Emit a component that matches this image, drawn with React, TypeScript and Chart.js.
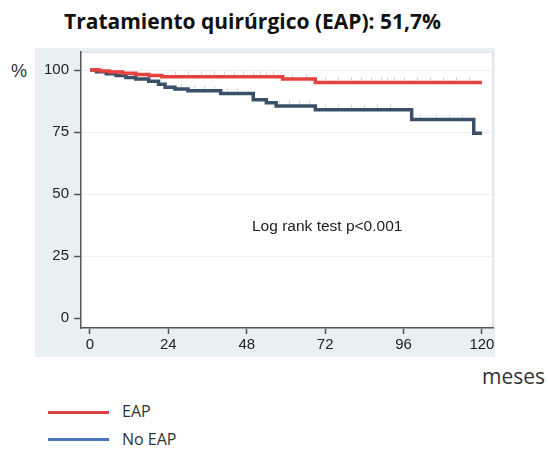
import React, { useEffect, useRef } from "react";
import { Chart, registerables } from "chart.js";

Chart.register(...registerables);

const title = "Tratamiento quirúrgico (EAP): 51,7%";
const seriesNames = ["EAP", "No EAP"];
const xTicks = [0, 24, 48, 72, 96, 120];
const yTicks = [0, 25, 50, 75, 100];

const eapTimes = [0, 3, 6, 10, 14, 18, 22, 59, 69, 120];
const eapSurv = [100, 99.6, 99.2, 98.7, 98.2, 97.8, 97.3, 96.4, 95.0, 95.0];

const noEapTimes = [0, 2, 5, 8, 11, 14, 18, 21, 23, 26, 30, 40, 50, 54, 57, 69, 98.5, 117.5, 120];
const noEapSurv = [100, 99.3, 98.5, 97.8, 97.0, 96.4, 95.5, 94.3, 93.0, 92.3, 91.6, 90.5, 88.0, 86.8, 85.5, 84.0, 80.0, 74.5, 74.5];

const eapCensor = [26, 30, 34, 38, 41, 44, 47, 50, 52, 54, 56, 62, 66, 72, 76, 80, 83, 86, 89, 91, 93, 96, 100, 104, 108, 112, 116];
const noEapCensor = [28, 32, 35, 38, 42, 45, 58, 61, 64, 67, 72, 76, 80, 84, 88, 92, 101, 106, 110, 114];

const pts = (t: number[], s: number[]) => t.map((x, i) => ({ x, y: s[i] }));
const survAt = (t: number[], s: number[], x: number) => {
  let v = s[0];
  for (let i = 0; i < t.length; i++) if (t[i] <= x) v = s[i];
  return v;
};

export default function App() {
  const ref = useRef<HTMLCanvasElement | null>(null);
  useEffect(() => {
    if (!ref.current) return;
    const bg = {
      id: "bg",
      beforeDraw(chart: any) {
        const { ctx, chartArea: a } = chart;
        ctx.save();
        ctx.fillStyle = "#e9f0f4";
        ctx.fillRect(0, 0, chart.width, chart.height);
        ctx.fillStyle = "#ffffff";
        ctx.fillRect(a.left, a.top, a.right - a.left, a.bottom - a.top);
        ctx.strokeStyle = "#dde3e8";
        ctx.lineWidth = 1;
        ctx.beginPath();
        ctx.moveTo(a.left, a.top + 0.5);
        ctx.lineTo(a.right - 0.5, a.top + 0.5);
        ctx.lineTo(a.right - 0.5, a.bottom);
        ctx.stroke();
        ctx.restore();
      },
    };
    const censor = {
      id: "censor",
      afterDatasetsDraw(chart: any) {
        const { ctx, scales } = chart;
        ctx.save();
        ctx.strokeStyle = "rgba(160,170,180,0.5)";
        ctx.lineWidth = 1;
        const draw = (c: number[], t: number[], s: number[]) => {
          c.forEach((x) => {
            const px = Math.round(scales.x.getPixelForValue(x)) + 0.5;
            const py = scales.y.getPixelForValue(survAt(t, s, x));
            ctx.beginPath();
            ctx.moveTo(px, py - 5);
            ctx.lineTo(px, py - 2);
            ctx.stroke();
          });
        };
        draw(eapCensor, eapTimes, eapSurv);
        draw(noEapCensor, noEapTimes, noEapSurv);
        ctx.restore();
      },
    };
    const chart = new Chart(ref.current, {
      type: "line",
      data: {
        datasets: [
          {
            label: seriesNames[0],
            data: pts(eapTimes, eapSurv),
            borderColor: "#e5413f",
            borderWidth: 3.5,
            stepped: true,
            pointRadius: 0,
            fill: false,
          },
          {
            label: seriesNames[1],
            data: pts(noEapTimes, noEapSurv),
            borderColor: "#3a5069",
            borderWidth: 3.5,
            stepped: true,
            pointRadius: 0,
            fill: false,
          },
        ],
      },
      options: {
        animation: false,
        responsive: false,
        devicePixelRatio: 1,
        layout: { padding: { top: 4, right: 2, left: 2, bottom: 2 } },
        plugins: { legend: { display: false }, tooltip: { enabled: false } },
        scales: {
          x: {
            type: "linear",
            min: -2.75,
            max: 123.4,
            afterFit: (s: any) => { s.height = 27; s.paddingLeft = 0; s.paddingRight = 0; },
            afterBuildTicks: (s: any) => { s.ticks = xTicks.map((v) => ({ value: v })); },
            grid: { drawOnChartArea: false, tickLength: 6, tickColor: "#555", tickWidth: 1.5 },
            border: { display: true, color: "#555", width: 1.5 },
            ticks: { color: "#222", font: { family: "Liberation Sans", size: 15 }, padding: 2, maxRotation: 0 },
          },
          y: {
            type: "linear",
            min: -4.03,
            max: 107.26,
            afterFit: (s: any) => { s.width = 44; s.paddingTop = 0; s.paddingBottom = 0; },
            afterBuildTicks: (s: any) => { s.ticks = yTicks.map((v) => ({ value: v })); },
            grid: {
              drawOnChartArea: true,
              tickLength: 7,
              color: (c: any) => (c.tick && c.tick.value === 0 ? "rgba(0,0,0,0)" : "#eceff1"),
              tickColor: "#555",
              tickWidth: 1.5,
              lineWidth: 1,
            },
            border: { display: true, color: "#555", width: 1.5 },
            ticks: { color: "#222", font: { family: "Liberation Sans", size: 15 }, padding: 5 },
          },
        },
      },
      plugins: [bg, censor],
    });
    return () => chart.destroy();
  }, []);

  const abs = (l: number, t: number): React.CSSProperties => ({ position: "absolute", left: l, top: t, whiteSpace: "nowrap" });

  return (
    <div style={{ position: "absolute", left: 0, top: 0, width: 548, height: 450, background: "#fff", fontFamily: "Liberation Sans", overflow: "hidden" }}>
      <div style={{ ...abs(0, 7), width: 505, textAlign: "center", fontFamily: "Open Sans", fontWeight: 700, fontSize: 21, color: "#111" }}>{title}</div>
      <div style={{ ...abs(11, 61), fontSize: 18, color: "#333" }}>%</div>
      <canvas ref={ref} width={460} height={309} style={{ position: "absolute", left: 35, top: 48 }} />
      <div style={{ ...abs(252, 217), fontSize: 15.5, color: "#222" }}>Log rank test p&lt;0.001</div>
      <div style={{ ...abs(482, 362), fontFamily: "Open Sans", fontSize: 21, color: "#333" }}>meses</div>
      <div style={{ ...abs(48, 411), width: 61, height: 3, background: "#d9434a" }} />
      <div style={{ ...abs(122, 400), fontFamily: "Open Sans", fontSize: 16, color: "#333" }}>{seriesNames[0]}</div>
      <div style={{ ...abs(48, 438), width: 61, height: 3, background: "#4a76c0" }} />
      <div style={{ ...abs(122, 428), fontFamily: "Open Sans", fontSize: 16, color: "#333" }}>{seriesNames[1]}</div>
    </div>
  );
}
